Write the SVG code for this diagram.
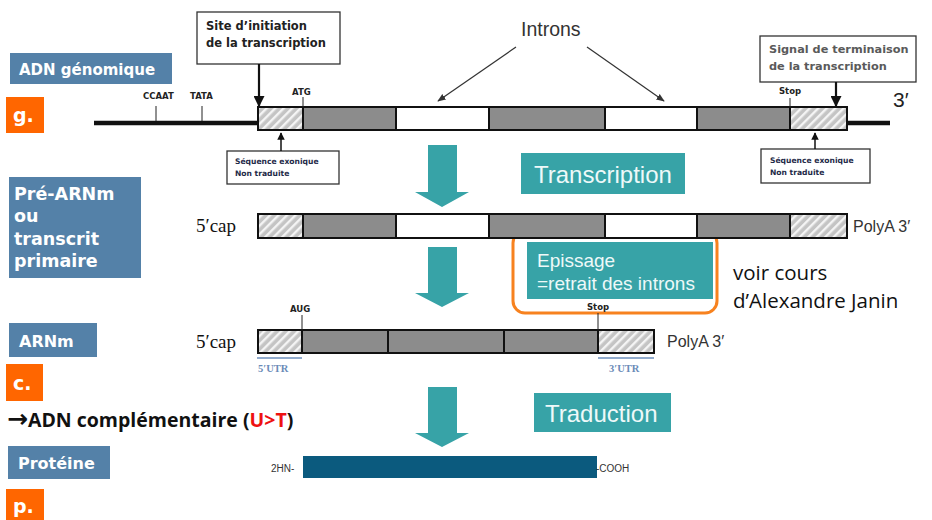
<svg xmlns="http://www.w3.org/2000/svg" width="932" height="520" viewBox="0 0 932 520">
<defs>
<pattern id="hatch" patternUnits="userSpaceOnUse" width="6" height="6" patternTransform="rotate(45)">
<rect width="6" height="6" fill="#c4c4c4"/>
<rect x="0" y="0" width="2.4" height="6" fill="#f4f4f4"/>
</pattern>
<marker id="ah" viewBox="0 0 10 10" refX="9" refY="5" markerWidth="5" markerHeight="5" orient="auto-start-reverse">
<path d="M0,0 L10,5 L0,10 z" fill="#111"/>
</marker>
<marker id="ahs" viewBox="0 0 10 10" refX="9" refY="5" markerWidth="7" markerHeight="7" orient="auto">
<path d="M0,1 L10,5 L0,9 z" fill="#333"/>
</marker>
</defs>
<style>
.lbl{fill:#5481a8}
.lbltx{font-family:"DejaVu Sans",sans-serif;font-weight:bold;fill:#ffffff}
.or{fill:#ff6600}
.ortx{font-family:"DejaVu Sans",sans-serif;font-weight:bold;fill:#ffffff;font-size:19px}
.teal{fill:#37a3a7}
.tealtx{font-family:"Liberation Sans",sans-serif;fill:#eef9f9}
.bar{stroke:#111;stroke-width:2}
.gr{fill:#8c8c8c}
.wh{fill:#ffffff}
.ht{fill:url(#hatch)}
.sm{font-family:"DejaVu Sans",sans-serif;font-weight:bold;font-size:8.5px;fill:#222}
.note{font-family:"DejaVu Sans",sans-serif;font-weight:bold;font-size:7.6px;fill:#1e2a48}
.cap{font-family:"Liberation Serif",serif;font-size:19px;fill:#111}
.poly{font-family:"Liberation Sans",sans-serif;font-size:16px;fill:#333}
.utr{font-family:"Liberation Serif",serif;font-weight:bold;font-size:10.5px;fill:#6b8bb8}
.box{fill:#ffffff;stroke:#333;stroke-width:1.3}
</style>

<!-- Side labels -->
<g id="lbl-adn"><rect class="lbl" x="10" y="53" width="162" height="31"/><text class="lbltx" x="19" y="75" font-size="15">ADN génomique</text></g>
<g id="tag-g"><rect class="or" x="6" y="97" width="38" height="36"/><text class="ortx" x="13" y="122">g.</text></g>
<g id="lbl-pre"><rect class="lbl" x="9" y="177" width="132" height="101"/>
<text class="lbltx" font-size="17.5"><tspan x="14" y="200">Pré-ARNm</tspan><tspan x="14" y="222">ou</tspan><tspan x="14" y="245">transcrit</tspan><tspan x="14" y="267">primaire</tspan></text></g>
<g id="lbl-arnm"><rect class="lbl" x="9" y="323" width="88" height="34"/><text class="lbltx" x="19" y="347" font-size="16">ARNm</text></g>
<g id="tag-c"><rect class="or" x="6" y="364" width="37" height="37"/><text class="ortx" x="13" y="390">c.</text></g>
<g id="adnc"><text x="7" y="427" font-family="'Open Sans',sans-serif" font-weight="bold" font-size="19.5" fill="#111"><tspan font-family="'DejaVu Sans',sans-serif" font-size="25">→</tspan>ADN complémentaire (<tspan fill="#ee1111">U&gt;T</tspan>)</text></g>
<g id="lbl-prot"><rect class="lbl" x="8" y="446" width="102" height="33"/><text class="lbltx" x="18" y="469" font-size="16">Protéine</text></g>
<g id="tag-p"><rect class="or" x="6" y="489" width="38" height="31"/><text class="ortx" x="13" y="513">p.</text></g>

<!-- Genomic DNA -->
<g id="gene">
<line x1="94" y1="123" x2="258" y2="123" stroke="#111" stroke-width="4.5"/>
<line x1="847" y1="123" x2="890" y2="123" stroke="#111" stroke-width="4.5"/>
<rect class="ht" x="258" y="107" width="45" height="23"/>
<rect class="gr" x="303" y="107" width="93" height="23"/>
<rect class="wh" x="396" y="107" width="93" height="23"/>
<rect class="gr" x="489" y="107" width="116" height="23"/>
<rect class="wh" x="605" y="107" width="92" height="23"/>
<rect class="gr" x="697" y="107" width="93" height="23"/>
<rect class="ht" x="790" y="107" width="57" height="23"/>
<g class="bar" fill="none">
<rect x="258" y="107" width="589" height="23"/>
<line x1="303" y1="107" x2="303" y2="130"/><line x1="396" y1="107" x2="396" y2="130"/><line x1="489" y1="107" x2="489" y2="130"/><line x1="605" y1="107" x2="605" y2="130"/><line x1="697" y1="107" x2="697" y2="130"/><line x1="790" y1="107" x2="790" y2="130"/>
</g>
<g stroke="#222" stroke-width="1">
<line x1="156" y1="106" x2="156" y2="121"/><line x1="202" y1="106" x2="202" y2="121"/>
<line x1="303" y1="97" x2="303" y2="107"/><line x1="790" y1="98" x2="790" y2="107"/>
</g>
<text class="sm" x="143" y="99">CCAAT</text>
<text class="sm" x="190" y="99">TATA</text>
<text class="sm" x="292" y="95">ATG</text>
<text class="sm" x="779" y="94">Stop</text>
<text x="893" y="107" font-family="'Liberation Sans',sans-serif" font-size="21" fill="#222">3′</text>
</g>

<g id="site-init"><rect class="box" x="197" y="12" width="143" height="52"/>
<text font-family="'DejaVu Sans',sans-serif" font-weight="bold" font-size="11.5" fill="#222"><tspan x="206" y="30">Site d’initiation</tspan><tspan x="206" y="47">de la transcription</tspan></text></g>

<g id="signal-term"><rect class="box" x="760" y="36" width="156" height="46"/>
<text font-family="'DejaVu Sans',sans-serif" font-weight="bold" font-size="11.3" fill="#5a5a5a"><tspan x="769" y="53">Signal de terminaison</tspan><tspan x="769" y="70">de la transcription</tspan></text></g>

<g id="introns"><text x="521" y="36" font-family="'Liberation Sans',sans-serif" font-size="19.5" fill="#333">Introns</text></g>

<g id="seq-left"><rect class="box" x="227" y="151" width="112" height="33"/>
<text class="note"><tspan x="235" y="164">Séquence exonique</tspan><tspan x="235" y="176">Non traduite</tspan></text></g>
<g id="seq-right"><rect class="box" x="761" y="149" width="109" height="34"/>
<text class="note"><tspan x="770" y="163">Séquence exonique</tspan><tspan x="770" y="175">Non traduite</tspan></text></g>

<!-- Process labels -->
<g id="transcription"><rect class="teal" x="521" y="153" width="164" height="41"/><text class="tealtx" x="534" y="183" font-size="24">Transcription</text></g>
<g id="epissage">
<rect x="513" y="231" width="204" height="82" rx="12" fill="none" stroke="#f7821f" stroke-width="3"/>
<rect class="teal" x="527" y="242" width="186" height="57"/>
<text class="tealtx" font-size="19"><tspan x="537" y="267">Epissage</tspan><tspan x="537" y="290">=retrait des introns</tspan></text>
</g>
<g id="voir"><text font-family="'Open Sans',sans-serif" font-size="20.5" fill="#111"><tspan x="733" y="280">voir cours</tspan><tspan x="733" y="308">d’Alexandre Janin</tspan></text></g>
<g id="traduction"><rect class="teal" x="534" y="393" width="137" height="39"/><text class="tealtx" x="545" y="422" font-size="24">Traduction</text></g>

<!-- Pre-mRNA -->
<g id="pre-arnm">
<text class="cap" x="196" y="232">5′cap</text>
<rect class="ht" x="258" y="214" width="45" height="24"/>
<rect class="gr" x="303" y="214" width="93" height="24"/>
<rect class="wh" x="396" y="214" width="93" height="24"/>
<rect class="gr" x="489" y="214" width="116" height="24"/>
<rect class="wh" x="605" y="214" width="92" height="24"/>
<rect class="gr" x="697" y="214" width="93" height="24"/>
<rect class="ht" x="790" y="214" width="57" height="24"/>
<g class="bar" fill="none">
<rect x="258" y="214" width="589" height="24"/>
<line x1="303" y1="214" x2="303" y2="238"/><line x1="396" y1="214" x2="396" y2="238"/><line x1="489" y1="214" x2="489" y2="238"/><line x1="605" y1="214" x2="605" y2="238"/><line x1="697" y1="214" x2="697" y2="238"/><line x1="790" y1="214" x2="790" y2="238"/>
</g>
<text class="poly" x="853" y="232">PolyA 3′</text>
</g>

<!-- mRNA -->
<g id="arnm">
<text class="cap" x="196" y="348">5′cap</text>
<rect class="ht" x="258" y="330" width="44" height="23"/>
<rect class="gr" x="302" y="330" width="296" height="23"/>
<rect class="ht" x="598" y="330" width="56" height="23"/>
<g class="bar" fill="none">
<rect x="258" y="330" width="396" height="23"/>
<line x1="302" y1="330" x2="302" y2="353"/><line x1="388" y1="330" x2="388" y2="353"/><line x1="504" y1="330" x2="504" y2="353"/><line x1="598" y1="330" x2="598" y2="353"/>
</g>
<g stroke="#222" stroke-width="1"><line x1="302" y1="315" x2="302" y2="330"/><line x1="598" y1="313" x2="598" y2="330"/></g>
<text class="sm" x="290" y="312">AUG</text>
<text class="sm" x="587" y="310">Stop</text>
<g stroke="#6d8fbc" stroke-width="1.5"><line x1="257" y1="358" x2="302" y2="358"/><line x1="598" y1="358" x2="654" y2="358"/></g>
<text class="utr" x="258" y="372">5′UTR</text>
<text class="utr" x="609" y="372">3′UTR</text>
<text class="poly" x="667" y="347">PolyA 3′</text>
</g>

<!-- Protein -->
<g id="proteine">
<text x="271" y="472" font-family="'Liberation Sans',sans-serif" font-size="10" fill="#333">2HN-</text>
<rect x="303" y="456" width="294" height="22" fill="#0b5a7e"/>
<text x="596" y="472" font-family="'Liberation Sans',sans-serif" font-size="10" fill="#333">-COOH</text>
</g>

<!-- Connectors -->
<g id="connectors">
<line x1="259" y1="64" x2="259" y2="106" stroke="#111" stroke-width="2.2" marker-end="url(#ah)"/>
<line x1="836" y1="82" x2="836" y2="106" stroke="#111" stroke-width="2.2" marker-end="url(#ah)"/>
<line x1="281" y1="151" x2="281" y2="133" stroke="#111" stroke-width="1.5" marker-end="url(#ah)"/>
<line x1="815" y1="149" x2="815" y2="133" stroke="#111" stroke-width="1.5" marker-end="url(#ah)"/>
<line x1="516" y1="47" x2="438" y2="101" stroke="#333" stroke-width="1.2" marker-end="url(#ahs)"/>
<line x1="587" y1="47" x2="664" y2="101" stroke="#333" stroke-width="1.2" marker-end="url(#ahs)"/>
<path class="teal" d="M428,145 H457 V192 H469 L442,207 L415,192 H428 Z"/>
<path class="teal" d="M428,247 H457 V293 H469 L442,307 L415,293 H428 Z"/>
<path class="teal" d="M428,387 H457 V433 H469 L442,447 L415,433 H428 Z"/>
</g>
</svg>
